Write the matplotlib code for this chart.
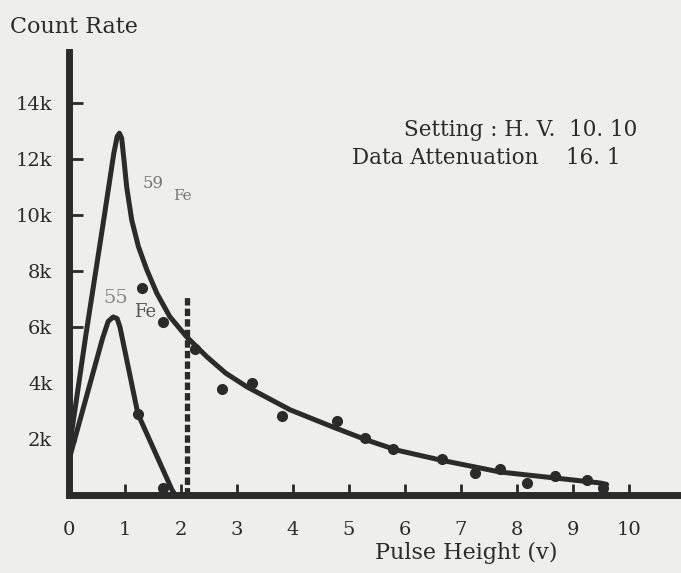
import matplotlib
matplotlib.use('Agg')
import matplotlib.pyplot as plt

# 59Fe curve (pulse height in V, count rate in thousands)
fe59_x = [0.03, 0.3, 0.61, 0.8, 0.86, 0.90, 0.94, 0.98, 1.03, 1.12,
          1.24, 1.39, 1.57, 1.80, 2.10, 2.46, 2.8, 3.18, 3.95, 4.71, 5.32, 5.86,
          6.63, 7.7, 8.71, 9.48, 9.6]
fe59_y = [2.0, 5.7, 9.7, 12.2, 12.8, 12.92, 12.75, 12.0, 11.0, 9.82,
          8.87, 8.04, 7.2, 6.37, 5.65, 4.94, 4.35, 3.86, 3.04, 2.43, 1.96, 1.6,
          1.25, 0.82, 0.6, 0.43, 0.38]

# 55Fe curve
fe55_x = [0.02, 0.6, 0.7, 0.79, 0.86, 0.91, 1.23, 1.84, 1.9]
fe55_y = [1.4, 5.6, 6.2, 6.36, 6.3, 6.0, 2.9, 0.18, 0.0]

# measured points
pts_x = [0.03, 1.23, 1.68, 1.30, 1.68, 2.25, 2.73, 3.27, 3.8, 4.79, 5.29, 5.79,
         6.66, 7.25, 7.7, 8.18, 8.68, 9.25, 9.54]
pts_y = [2.0, 2.9, 0.25, 7.38, 6.19, 5.2, 3.79, 4.0, 2.82, 2.64, 2.04, 1.66,
         1.29, 0.79, 0.93, 0.43, 0.68, 0.54, 0.25]

cut_x = 2.1
cut_top = 7.14

x_ticks = [0, 1, 2, 3, 4, 5, 6, 7, 8, 9, 10]
y_ticks = [2, 4, 6, 8, 10, 12, 14]
y_labels = ['2k', '4k', '6k', '8k', '10k', '12k', '14k']

W, H = 681, 573
ink = '#2b2b2b'
paper = '#eeeeec'
plt.rcParams['font.family'] = ['DejaVu Serif']

fig = plt.figure(figsize=(W / 100, H / 100), dpi=100, facecolor=paper)
ax = fig.add_axes([69 / W, 78 / H, 612 / W, 443 / H])
ax.set_facecolor(paper)
ax.set_xlim(0, 612 / 56)
ax.set_ylim(0, 443 / 28)

for s in ['top', 'right']:
    ax.spines[s].set_visible(False)
for s in ['left', 'bottom']:
    ax.spines[s].set_linewidth(5)
    ax.spines[s].set_color(ink)

ax.plot(fe59_x, fe59_y, color=ink, lw=3.6, solid_capstyle='round', solid_joinstyle='round')
ax.plot(fe55_x, fe55_y, color=ink, lw=3.6, solid_capstyle='round', solid_joinstyle='round')
ax.plot(pts_x, pts_y, 'o', color=ink, ms=7, clip_on=False)
ax.plot([cut_x, cut_x], [0, cut_top], color=ink, lw=3.8, dashes=(1.4, 0.6),
        dash_capstyle='butt')

ax.set_xticks(x_ticks)
ax.set_yticks(y_ticks)
ax.set_yticklabels(y_labels)
ax.tick_params(axis='x', direction='in', length=8, width=2, color=ink, pad=19,
               labelsize=14, labelcolor=ink)
ax.tick_params(axis='y', direction='in', length=10, width=2, color=ink, pad=12,
               labelsize=14, labelcolor=ink)
ax.xaxis.get_major_ticks()[0].tick1line.set_visible(False)
ax.yaxis.get_major_ticks()[0].tick1line.set_visible(False)
ax.yaxis.get_major_ticks()[1].tick1line.set_visible(False)


def ftext(px, py, s, **kw):
    fig.text(px / W, 1 - py / H, s, color=kw.pop('color', ink), va='center', **kw)


ftext(10, 27, 'Count Rate', ha='left', fontsize=16)
ftext(466, 553, 'Pulse Height (v)', ha='center', fontsize=16)
ftext(637, 130, 'Setting : H. V.  10. 10', ha='right', fontsize=15.5)
ftext(352, 158, 'Data Attenuation    16. 1', ha='left', fontsize=15.5)
ftext(153, 183, '59', ha='center', fontsize=12, color='#777777')
ftext(182, 196, 'Fe', ha='center', fontsize=11, color='#777777')
ftext(116, 298, '55', ha='center', fontsize=14, color='#888888')
ftext(145, 312, 'Fe', ha='center', fontsize=13, color='#555555')

fig.savefig('out.png', dpi=100, facecolor=paper)
